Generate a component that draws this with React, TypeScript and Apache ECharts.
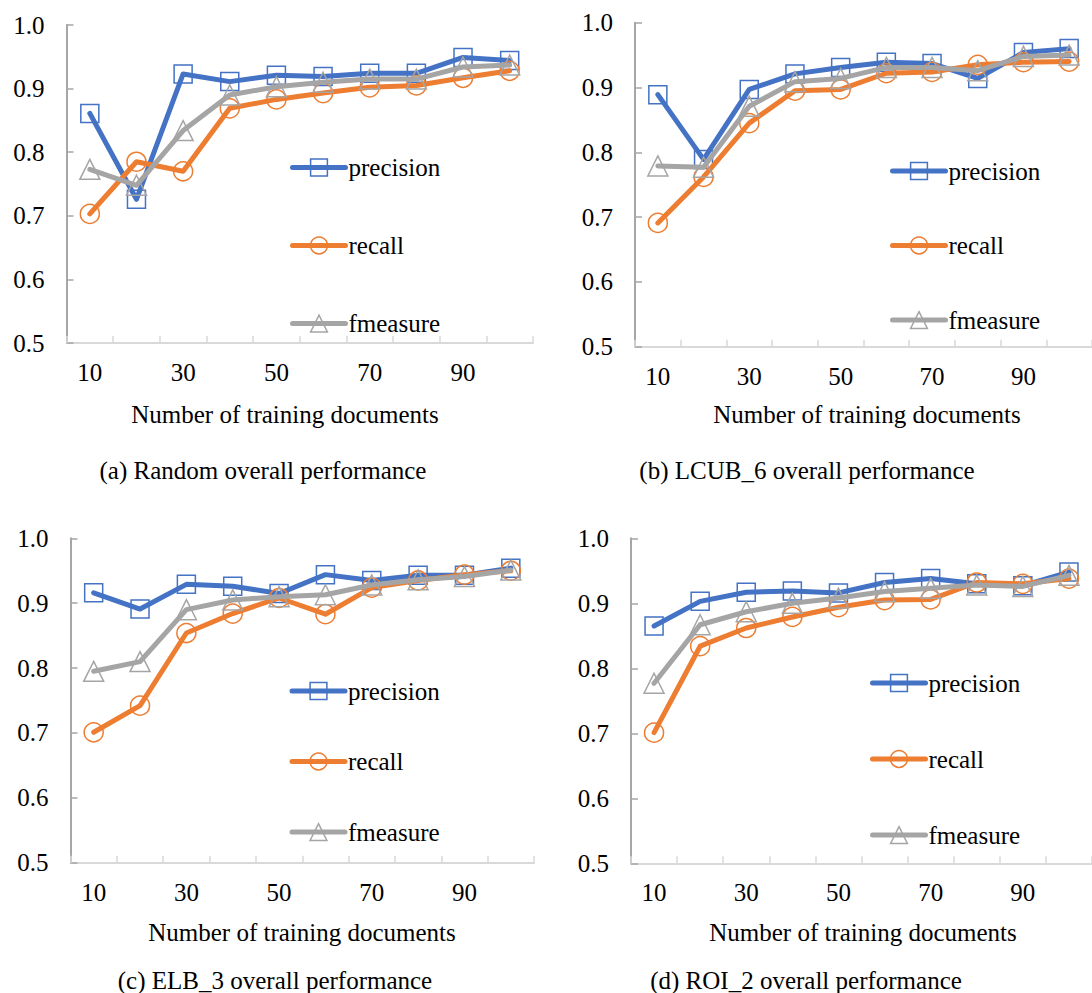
import React, { useEffect, useRef } from "react";
import * as echarts from "echarts";

// Training set sizes on the x axis
const categories = ["10", "20", "30", "40", "50", "60", "70", "80", "90", "100"];
const seriesNames = ["precision", "recall", "fmeasure"];

// (a) Random
const randomPrecision = [0.861, 0.726, 0.923, 0.911, 0.921, 0.919, 0.924, 0.924, 0.949, 0.944];
const randomRecall = [0.703, 0.785, 0.77, 0.869, 0.883, 0.893, 0.902, 0.905, 0.917, 0.928];
const randomFmeasure = [0.773, 0.748, 0.834, 0.89, 0.903, 0.91, 0.915, 0.915, 0.934, 0.937];

// (b) LCUB_6
const lcubPrecision = [0.889, 0.789, 0.897, 0.921, 0.931, 0.939, 0.937, 0.914, 0.954, 0.96];
const lcubRecall = [0.691, 0.762, 0.845, 0.895, 0.897, 0.922, 0.924, 0.935, 0.939, 0.94];
const lcubFmeasure = [0.779, 0.777, 0.871, 0.909, 0.914, 0.931, 0.931, 0.926, 0.948, 0.95];

// (c) ELB_3
const elbPrecision = [0.916, 0.891, 0.929, 0.926, 0.915, 0.944, 0.935, 0.943, 0.943, 0.954];
const elbRecall = [0.701, 0.742, 0.854, 0.884, 0.908, 0.883, 0.924, 0.935, 0.944, 0.95];
const elbFmeasure = [0.795, 0.81, 0.89, 0.905, 0.91, 0.913, 0.928, 0.936, 0.941, 0.951];

// (d) ROI_2
const roiPrecision = [0.865, 0.903, 0.917, 0.919, 0.916, 0.932, 0.938, 0.93, 0.927, 0.948];
const roiRecall = [0.701, 0.834, 0.862, 0.879, 0.894, 0.905, 0.906, 0.932, 0.93, 0.938];
const roiFmeasure = [0.777, 0.867, 0.887, 0.9, 0.908, 0.918, 0.923, 0.928, 0.926, 0.943];

const xAxisTitle = "Number of training documents";
const captions = [
  "(a) Random overall performance",
  "(b) LCUB_6 overall performance",
  "(c) ELB_3 overall performance",
  "(d) ROI_2 overall performance",
];

const FONT = "'Liberation Serif', 'Times New Roman', serif";
const FONT_SIZE = 25;
const COLORS = ["#4472C4", "#ED7D31", "#A5A5A5"];
const SYMBOLS = ["rect", "circle", "triangle"];
const SYMBOL_SIZES = [18, 19, 20];

const panels = [
  { data: [randomPrecision, randomRecall, randomFmeasure], grid: { left: 66.5, top: 25, width: 466.5, height: 318 }, legend: { left: 290, top: 155, gap: 53 }, name: { x: 285, y: 414 }, caption: { x: 263, y: 470 } },
  { data: [lcubPrecision, lcubRecall, lcubFmeasure], grid: { left: 635, top: 22.7, width: 465, height: 324 }, legend: { left: 890, top: 158.5, gap: 49.5 }, name: { x: 867, y: 414 }, caption: { x: 807, y: 470 } },
  { data: [elbPrecision, elbRecall, elbFmeasure], grid: { left: 70.5, top: 538.3, width: 463.5, height: 324.4 }, legend: { left: 289.5, top: 678.5, gap: 45.5 }, name: { x: 302, y: 932 }, caption: { x: 275, y: 980 } },
  { data: [roiPrecision, roiRecall, roiFmeasure], grid: { left: 631, top: 538.3, width: 465, height: 325 }, legend: { left: 870, top: 670.5, gap: 51 }, name: { x: 863, y: 932 }, caption: { x: 806, y: 980 } },
];

export default function App() {
  const ref = useRef<HTMLDivElement>(null);

  useEffect(() => {
    document.body.style.margin = "0";
    if (!ref.current) return;
    const chart = echarts.init(ref.current, null, { renderer: "svg" });

    const grids = panels.map((p) => ({ ...p.grid, containLabel: false }));

    const xAxes = panels.map((_, i) => ({
      type: "category",
      gridIndex: i,
      data: categories,
      boundaryGap: true,
      axisLine: { show: true, lineStyle: { color: "#D9D9D9", width: 2 } },
      axisTick: { show: true, inside: true, length: 7, interval: 0, lineStyle: { color: "#D9D9D9", width: 1.5 } },
      axisLabel: { interval: 1, margin: 17, color: "#000", fontSize: FONT_SIZE, fontFamily: FONT },
      splitLine: { show: false },
    }));

    const yAxes = panels.map((_, i) => ({
      type: "value",
      gridIndex: i,
      min: 0.5,
      max: 1.0,
      interval: 0.1,
      axisLine: { show: true, lineStyle: { color: "#A6A6A6", width: 2 } },
      axisTick: { show: true, inside: true, length: 7, lineStyle: { color: "#A6A6A6", width: 1.5 } },
      axisLabel: { margin: 22, color: "#000", fontSize: FONT_SIZE, fontFamily: FONT, formatter: (v: number) => v.toFixed(1) },
      splitLine: { show: false },
    }));

    const series: any[] = [];
    panels.forEach((p, gi) => {
      p.data.forEach((values, si) => {
        series.push({
          type: "line",
          name: seriesNames[si],
          xAxisIndex: gi,
          yAxisIndex: gi,
          data: values,
          color: COLORS[si],
          symbol: SYMBOLS[si],
          symbolSize: SYMBOL_SIZES[si],
          showAllSymbol: true,
          lineStyle: { color: COLORS[si], width: 5, cap: "round", join: "round" },
          itemStyle: { color: "rgba(255,255,255,0)", borderColor: COLORS[si], borderWidth: 1.5 },
          emphasis: { disabled: true },
          z: 2 + si,
        });
      });
    });

    const legends = panels.map((p) => ({
      orient: "vertical",
      left: p.legend.left,
      top: p.legend.top,
      itemGap: p.legend.gap,
      itemWidth: 53,
      itemHeight: 21,
      padding: 0,
      selectedMode: false,
      data: seriesNames,
      textStyle: { color: "#000", fontSize: FONT_SIZE, fontFamily: FONT, padding: [0, 0, 0, -2] },
      lineStyle: { width: 5, cap: "round" },
      itemStyle: { borderWidth: 1.5 },
    }));

    const texts: any[] = [];
    panels.forEach((p, i) => {
      texts.push({
        type: "text",
        x: p.name.x,
        y: p.name.y,
        style: { text: xAxisTitle, fill: "#000", font: `${FONT_SIZE}px ${FONT}`, textAlign: "center", textVerticalAlign: "middle" },
      });
      texts.push({
        type: "text",
        x: p.caption.x,
        y: p.caption.y,
        style: { text: captions[i], fill: "#000", font: `${FONT_SIZE}px ${FONT}`, textAlign: "center", textVerticalAlign: "middle" },
      });
    });

    chart.setOption({
      animation: false,
      backgroundColor: "#fff",
      grid: grids,
      xAxis: xAxes,
      yAxis: yAxes,
      legend: legends,
      series,
      graphic: texts,
    });

    return () => chart.dispose();
  }, []);

  return <div ref={ref} style={{ width: 1092, height: 993 }} />;
}
